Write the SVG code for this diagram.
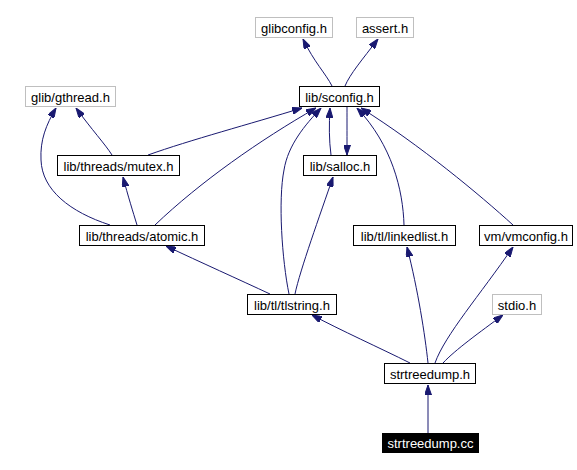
<svg xmlns="http://www.w3.org/2000/svg" width="577" height="470" viewBox="0 0 577 470">
<style>
.n rect{fill:#fff;stroke:#000;stroke-width:1}
.g rect{fill:#fff;stroke:#bfbfbf;stroke-width:1}
.cur rect{fill:#000;stroke:#000;stroke-width:1}
text{font-family:"Liberation Sans",Arial,sans-serif;font-size:13px;text-anchor:middle;fill:#000}
.cur text{fill:#fff}
#edges path{fill:none;stroke:#191970;stroke-width:1;marker-end:url(#ah)}
</style>
<defs>
<marker id="ah" viewBox="0 0 10 7" refX="10" refY="3.5" markerWidth="10" markerHeight="7" orient="auto" markerUnits="userSpaceOnUse">
<path d="M0,0 L10,3.5 L0,7 z" fill="#191970" stroke="#191970"/>
</marker>
</defs>
<rect width="577" height="470" fill="#fff"/>
<g id="edges">
<path d="M332,86 C326,74 314,62 303,39"/>
<path d="M345,86 C350,74 362,60 378,39"/>
<path d="M112,155 C105,144 92,130 76,108"/>
<path d="M148,155 C190,140 250,124 302,108"/>
<path d="M110,225 C70,212 42,190 41,160 C40,140 46,125 56,108"/>
<path d="M137,225 C133,212 128,196 123,177"/>
<path d="M155,225 C200,182 260,140 316,108"/>
<path d="M289,294 C282,260 278,200 284,170 C288,145 305,125 321,108"/>
<path d="M270,294 C240,280 200,262 166,246"/>
<path d="M295,294 C300,270 320,215 333,177"/>
<path d="M331,155 C329,140 329,125 330,108"/>
<path d="M347,107 C347,120 347,140 347,155"/>
<path d="M404,225 C403,190 392,145 357,108"/>
<path d="M513,225 C480,195 420,145 361,108"/>
<path d="M410,363 C380,348 340,330 312,315"/>
<path d="M428,363 C425,335 418,290 407,247"/>
<path d="M435,363 C445,335 480,295 513,247"/>
<path d="M443,363 C455,350 480,332 503,315"/>
<path d="M428,433 L428,385"/>
</g>
<g id="glibconfig" class="g"><rect x="255.5" y="17.5" width="77" height="20"/><text x="294" y="32.5">glibconfig.h</text></g>
<g id="assert" class="g"><rect x="356.5" y="17.5" width="57" height="20"/><text x="385" y="32.5">assert.h</text></g>
<g id="sconfig" class="n"><rect x="299.5" y="86.5" width="80" height="20"/><text x="339.5" y="101.5">lib/sconfig.h</text></g>
<g id="gthread" class="g"><rect x="25.5" y="86.5" width="90" height="20"/><text x="70.5" y="101.5">glib/gthread.h</text></g>
<g id="mutex" class="n"><rect x="57.5" y="155.5" width="122" height="20"/><text x="118.5" y="170.5">lib/threads/mutex.h</text></g>
<g id="salloc" class="n"><rect x="303.5" y="155.5" width="73" height="20"/><text x="340" y="170.5">lib/salloc.h</text></g>
<g id="atomic" class="n"><rect x="79.5" y="225.5" width="125" height="20"/><text x="142" y="240.5">lib/threads/atomic.h</text></g>
<g id="linkedlist" class="n"><rect x="353.5" y="225.5" width="102" height="20"/><text x="404.5" y="240.5">lib/tl/linkedlist.h</text></g>
<g id="vmconfig" class="n"><rect x="479.5" y="225.5" width="93" height="20"/><text x="526" y="240.5">vm/vmconfig.h</text></g>
<g id="tlstring" class="n"><rect x="247.5" y="294.5" width="89" height="20"/><text x="292" y="309.5">lib/tl/tlstring.h</text></g>
<g id="stdio" class="g"><rect x="492.5" y="294.5" width="49" height="20"/><text x="517" y="309.5">stdio.h</text></g>
<g id="strtreedump_h" class="n"><rect x="384.5" y="363.5" width="91" height="20"/><text x="430" y="378.5">strtreedump.h</text></g>
<g id="strtreedump_cc" class="cur"><rect x="382.5" y="433.5" width="96" height="19"/><text x="430.5" y="448">strtreedump.cc</text></g>
</svg>
